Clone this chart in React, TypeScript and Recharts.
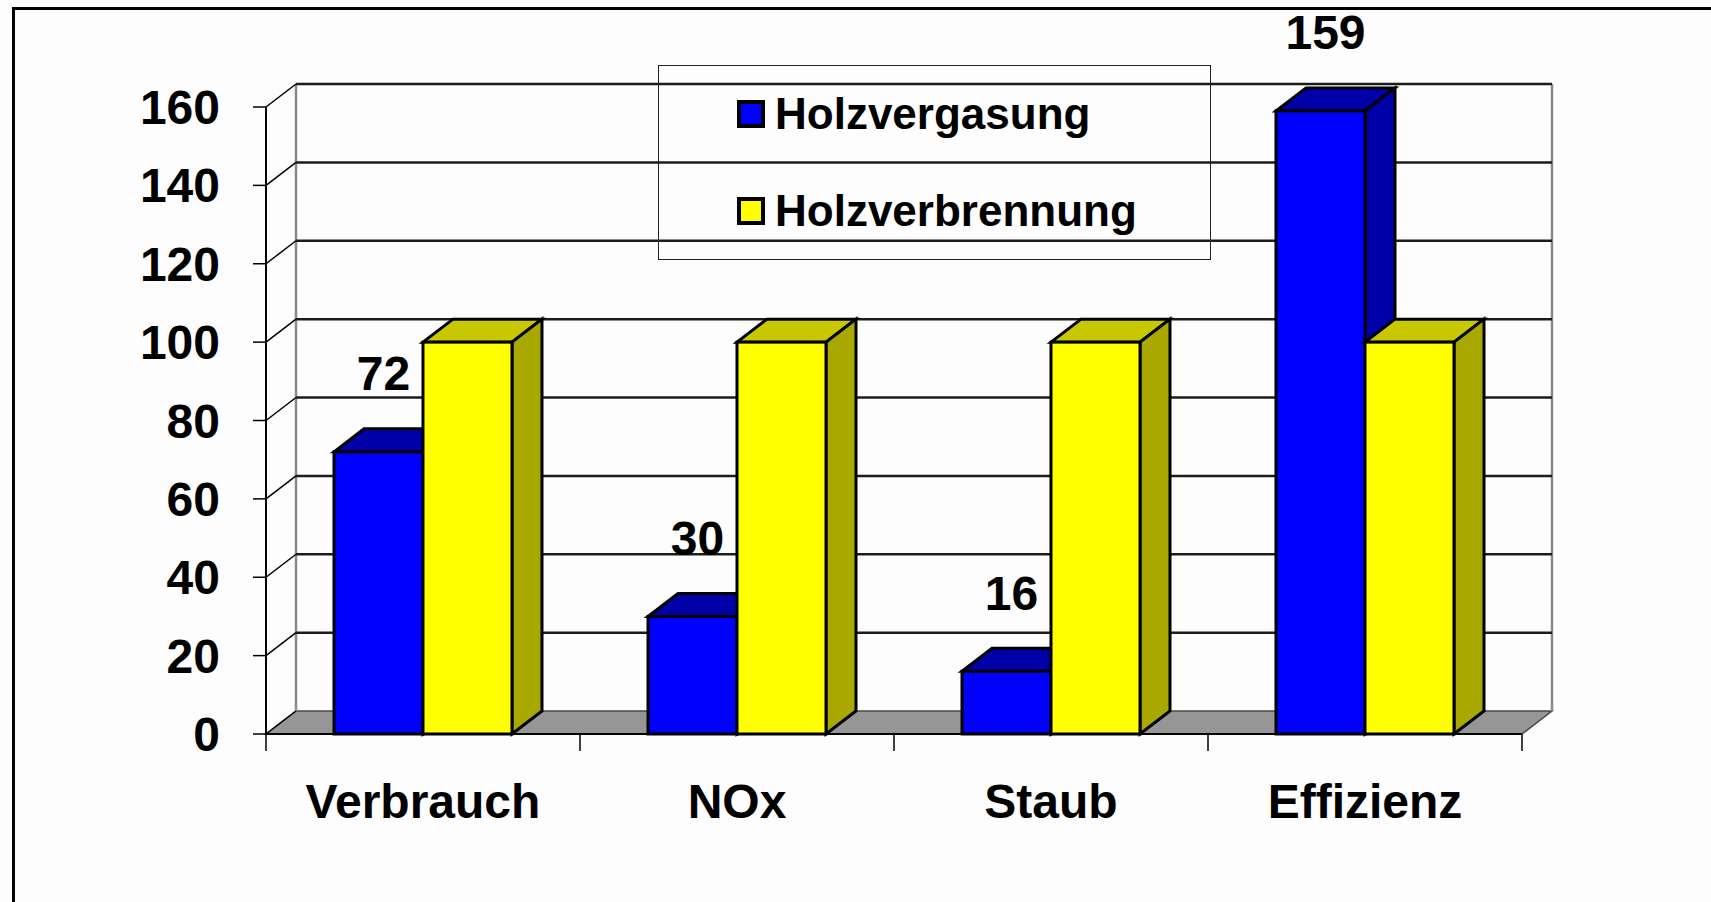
import React from 'react';
import { BarChart, Bar, XAxis, YAxis, CartesianGrid, Legend, LabelList } from 'recharts';

// ---- data ----
const categories = ['Verbrauch', 'NOx', 'Staub', 'Effizienz'];
const holzvergasung = [72, 30, 16, 159];
const holzverbrennung = [100, 100, 100, 100];
const yTicks = [0, 20, 40, 60, 80, 100, 120, 140, 160];
const seriesNames = ['Holzvergasung', 'Holzverbrennung'];

const data = categories.map((name, i) => ({
  name,
  vergasung: holzvergasung[i],
  verbrennung: holzverbrennung[i],
}));

// ---- style ----
const FONT = '"Liberation Sans", Arial, Helvetica, sans-serif';
const DX = 30;
const DY = 23;
const W = 1711;
const H = 902;
const MARGIN = { top: 107, right: 189, bottom: 0, left: 0 };
const X_AXIS_H = 168;
const Y_AXIS_W = 266;
const PLOT_TOP = MARGIN.top;
const PLOT_BOTTOM = H - MARGIN.bottom - X_AXIS_H;

const make3DBar = (front: string, top: string, side: string) => (props: any) => {
  const { x, y, width, height } = props;
  if (x == null || y == null || !width || height == null) return <g />;
  const x2 = x + width;
  const y2 = y + height;
  return (
    <g>
      <polygon
        points={`${x},${y} ${x + DX},${y - DY} ${x2 + DX},${y - DY} ${x2},${y}`}
        fill={top}
        stroke="#000"
        strokeWidth={3}
      />
      <polygon
        points={`${x2},${y} ${x2 + DX},${y - DY} ${x2 + DX},${y2 - DY} ${x2},${y2}`}
        fill={side}
        stroke="#000"
        strokeWidth={3}
      />
      <rect x={x} y={y} width={width} height={height} fill={front} stroke="#000" strokeWidth={3} />
    </g>
  );
};

const blueBar = make3DBar('#0000FF', '#0000A8', '#0000A8');
const yellowBar = make3DBar('#FFFF00', '#C8C800', '#A8A800');

const gridLine = (props: any) => {
  const { x1, y1, x2 } = props;
  const top = props.y != null ? props.y : PLOT_TOP;
  const bottom = props.y != null && props.height != null ? props.y + props.height : PLOT_BOTTOM;
  const left = props.x != null ? props.x : x1;
  const width = props.width != null ? props.width : x2 - x1;
  const isBottom = Math.abs(y1 - bottom) < 0.5;
  const n = categories.length;
  return (
    <g key={props.key}>
      {isBottom && (
        <g>
          <polygon
            points={`${left},${bottom} ${left + width},${bottom} ${left + width + DX},${bottom - DY} ${left + DX},${bottom - DY}`}
            fill="#969696"
            stroke="#4a4a4a"
            strokeWidth={1.5}
          />
          <line x1={left + DX} y1={bottom - DY} x2={left + DX} y2={top - DY} stroke="#8a8a8a" strokeWidth={2.5} />
          <line x1={left + width + DX} y1={bottom - DY} x2={left + width + DX} y2={top - DY} stroke="#8a8a8a" strokeWidth={2.5} />
          {Array.from({ length: n + 1 }).map((_, i) => (
            <line
              key={i}
              x1={left + (i * width) / n}
              y1={bottom}
              x2={left + (i * width) / n}
              y2={bottom + 17}
              stroke="#000"
              strokeWidth={1.5}
            />
          ))}
        </g>
      )}
      <line x1={x1} y1={y1} x2={x1 + DX} y2={y1 - DY} stroke="#000" strokeWidth={1.5} />
      {!isBottom && (
        <line x1={x1 + DX} y1={y1 - DY} x2={x2 + DX} y2={y1 - DY} stroke="#1c1c1c" strokeWidth={2.5} />
      )}
    </g>
  );
};

const renderValueLabel = (props: any) => {
  const { x, y, width, value } = props;
  if (x == null || y == null) return null;
  return (
    <text
      x={x + width / 2 + 5}
      y={y - 79}
      dy="0.36em"
      textAnchor="middle"
      fontFamily={FONT}
      fontWeight="bold"
      fontSize={48}
      fill="#000"
    >
      {value}
    </text>
  );
};

const renderLegend = (props: any) => {
  const payload = [...(props.payload || [])].sort(
    (a: any, b: any) => seriesNames.indexOf(a.value) - seriesNames.indexOf(b.value)
  );
  const rowCenters = [48, 144.5];
  return (
    <div
      style={{
        position: 'relative',
        width: 553,
        height: 195,
        border: '1.5px solid #222',
        boxSizing: 'border-box',
        fontFamily: FONT,
      }}
    >
      {payload.map((p: any, i: number) => (
        <div
          key={i}
          style={{
            position: 'absolute',
            left: 78,
            top: rowCenters[i] - 24,
            height: 48,
            display: 'flex',
            alignItems: 'center',
            whiteSpace: 'nowrap',
          }}
        >
          <div
            style={{
              width: 28,
              height: 28,
              boxSizing: 'border-box',
              border: '4.5px solid #000',
              background: p.color,
            }}
          />
          <span
            style={{
              marginLeft: 10,
              fontSize: 44,
              fontWeight: 'bold',
              lineHeight: 1,
              color: '#000',
            }}
          >
            {p.value}
          </span>
        </div>
      ))}
    </div>
  );
};

export default function App() {
  return (
    <div
      style={{
        position: 'absolute',
        left: 0,
        top: 0,
        width: W,
        height: H,
        overflow: 'hidden',
        background: '#fdfdfd',
      }}
    >
      <div
        style={{
          position: 'absolute',
          left: 12,
          top: 7,
          width: W,
          height: H,
          borderLeft: '3px solid #000',
          borderTop: '3px solid #000',
        }}
      />
      <div style={{ position: 'absolute', left: 0, top: 0 }}>
        <BarChart width={W} height={H} data={data} margin={MARGIN} barGap={0} barSize={89}>
          <CartesianGrid horizontal={gridLine as any} vertical={false} />
          <XAxis
            dataKey="name"
            height={X_AXIS_H}
            axisLine={{ stroke: '#000', strokeWidth: 2 }}
            tickLine={false}
            tickSize={0}
            tickMargin={50}
            interval={0}
            tick={{ fontFamily: FONT, fontSize: 48, fontWeight: 'bold', fill: '#000' }}
          />
          <YAxis
            type="number"
            domain={[0, 160]}
            ticks={yTicks}
            interval={0}
            width={Y_AXIS_W}
            axisLine={{ stroke: '#000', strokeWidth: 2 }}
            tickLine={{ stroke: '#000', strokeWidth: 1.5 }}
            tickSize={13}
            tickMargin={33}
            tick={{ fontFamily: FONT, fontSize: 48, fontWeight: 'bold', fill: '#000' }}
          />
          <Legend
            verticalAlign="middle"
            align="center"
            layout="horizontal"
            content={renderLegend}
            wrapperStyle={{ left: 658, top: 65, width: 553, height: 195 }}
          />
          <Bar
            dataKey="vergasung"
            name={seriesNames[0]}
            fill="#0000FF"
            shape={blueBar}
            isAnimationActive={false}
          >
            <LabelList dataKey="vergasung" content={renderValueLabel} />
          </Bar>
          <Bar
            dataKey="verbrennung"
            name={seriesNames[1]}
            fill="#FFFF00"
            shape={yellowBar}
            isAnimationActive={false}
          />
        </BarChart>
      </div>
    </div>
  );
}
